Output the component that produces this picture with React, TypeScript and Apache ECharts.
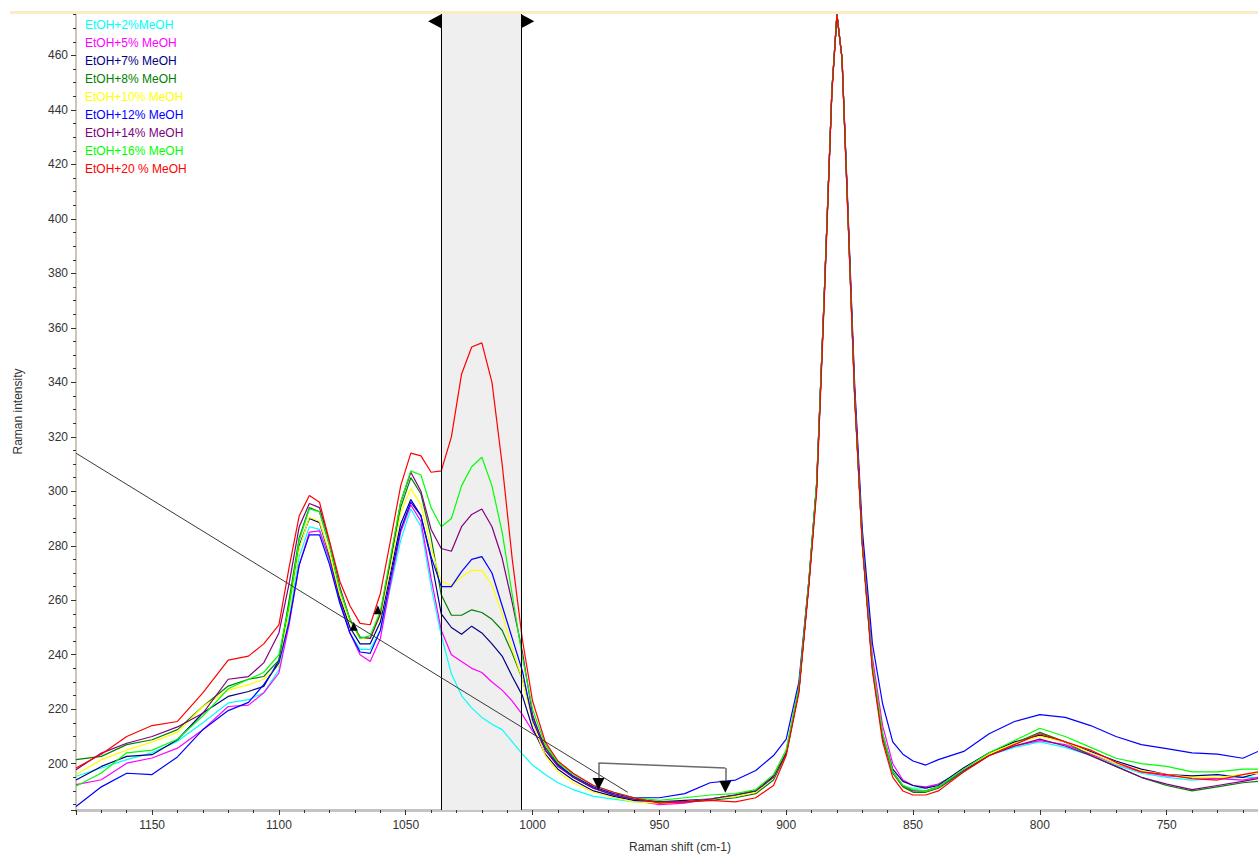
import React, { useEffect, useRef } from 'react';
import * as echarts from 'echarts';

// Raman shift axis positions (cm-1) shared by all spectra
const wavenumbers = [
  1180, 1170, 1160, 1150, 1140, 1130, 1120, 1112, 1106, 1100,
  1096, 1092, 1088, 1084, 1080, 1076, 1072, 1068, 1064, 1060,
  1056, 1052, 1048, 1044, 1040, 1036, 1032, 1028, 1024, 1020,
  1016, 1012, 1008, 1004, 1000, 995, 990, 984, 976, 968,
  960, 950, 940, 930, 920, 912, 905, 900, 895, 891,
  888, 885, 882, 880, 878, 876, 873, 870, 866, 862,
  858, 854, 850, 845, 840, 830, 820, 810, 800, 790,
  780, 770, 760, 750, 740, 730, 720, 714,
];

const meoh2 = [
  195.4, 198.4, 201.5, 204, 208.2, 215, 222.3, 223.5, 226, 234.5,
  254, 276, 287, 286, 274, 259, 248, 242, 242, 249,
  265, 282, 293.5, 287, 265, 247, 233, 225, 220.5, 217,
  214.5, 212.5, 208, 203.5, 199.5, 196, 193, 190.5, 188, 187,
  186, 185.5, 186, 187, 188, 189.5, 195, 204, 227, 267,
  302, 372, 447, 475, 459, 410, 335, 281, 236, 211,
  197, 192, 191, 191, 192.5, 198, 203, 206, 208, 206,
  203, 199.5, 196.5, 195, 194, 194.5, 195, 195,
];
const meoh5 = [
  192.3, 194.1, 200.2, 202.1, 205.7, 212.5, 221, 221.5, 226, 233.3,
  251, 273, 285, 285.5, 275, 260, 248, 240, 237.5, 246,
  266, 285, 295, 289, 268, 249, 240, 237.5, 235, 233.5,
  230, 227, 223, 218, 212, 206, 199.5, 195, 191, 188.5,
  186.5, 185, 185.5, 187, 188.5, 190, 195.5, 205, 228, 268,
  303, 372, 447, 475, 459, 411, 337, 283, 239, 214,
  200, 194, 192, 191.5, 192.5, 197.5, 203, 206.5, 208.5, 207,
  203.5, 200, 197, 195.5, 195, 194.5, 194, 195,
];
const meoh7 = [
  194, 199, 202.7, 203.3, 208.8, 218.6, 224.7, 226.5, 228.4, 238,
  258, 280, 290, 288.5, 276, 261, 250, 244, 244, 252,
  270, 288, 297, 291, 275, 255, 250, 247.5, 250.5, 248,
  244, 239.5, 232, 225, 213, 203.5, 198, 194, 190, 188,
  186.5, 186, 186.5, 187, 188.5, 190, 195.5, 204, 227, 267,
  302, 372, 447, 475, 459, 410, 335, 281, 236, 211,
  198, 193.5, 192, 191, 192, 198.5, 204, 208, 210.5, 208,
  204.5, 201, 198, 196, 195.5, 196, 195, 196.5,
];
const meoh8 = [
  201.5, 202.7, 207, 208.8, 212.5, 221, 228.5, 231, 232, 238,
  260, 283, 294, 292.5, 280, 264, 253, 246, 246, 255,
  274, 294, 305, 299, 283, 262, 254.5, 254.5, 256.5, 255.5,
  253, 249, 240.5, 231, 217, 206, 200, 195, 191, 188.5,
  187, 186, 186, 186.5, 187.5, 189, 194, 203.5, 227, 267,
  302, 372, 447, 475, 459, 410, 335, 281, 235, 209.5,
  196.5, 191.5, 189.5, 189.5, 191, 197, 203, 207.5, 211.5, 208,
  203, 199, 195, 192, 190, 191.5, 193, 193.5,
];
const meoh10 = [
  196, 201.5, 205, 208, 211.5, 221, 227, 229, 231, 236,
  256, 279, 290.5, 289, 277, 262, 252, 246, 246, 254,
  272, 292, 301, 295, 279, 267, 265.5, 268.5, 271, 271,
  265.5, 255, 242, 231, 215, 203, 197, 193, 189.5, 187.5,
  186, 185.5, 186, 187, 188, 189.5, 195, 205, 228, 268,
  303, 372, 447, 475, 459, 410, 335, 281, 236, 211,
  197, 192, 190.5, 190, 191.5, 198, 203.5, 207.5, 210, 208,
  204, 200, 197.5, 196, 195, 195, 196, 196.5,
];
const meoh12 = [
  184.3, 191.5, 196.5, 196, 202.5, 212.5, 219.5, 222.5, 229, 237,
  252, 273, 284, 284, 273, 259, 248, 241, 240.5, 249,
  268, 286, 296, 291, 276, 265, 265, 270.5, 275, 276,
  270, 258, 246, 234, 216, 205, 199.5, 195.5, 191.5, 189,
  187.5, 187.5, 189, 193, 194, 197.5, 203, 209, 230, 268,
  303, 372, 447, 475, 459, 412, 339, 286, 244, 222,
  208, 203.5, 201, 199.5, 201.5, 204.5, 211, 215.5, 218, 217,
  214, 210, 207, 205.5, 204, 203.5, 202, 204.5,
];
const meoh14 = [
  197.8, 203.9, 207.5, 210, 213.5, 218.5, 231, 232, 237, 248,
  266, 287, 295.5, 294, 281, 265, 253, 246.5, 246, 255,
  275, 296, 307, 300, 286, 279, 278, 287, 291.5, 293.5,
  287, 275.5, 259, 241, 218, 205, 199, 195, 191, 188.5,
  187, 186, 186, 187, 188.5, 190, 195, 204, 227, 267,
  302, 372, 447, 475, 459, 410, 335, 281, 235, 210,
  197, 192, 190, 190, 191.5, 197.5, 203, 206.5, 209, 206.5,
  203, 199, 195, 192.5, 190.5, 192, 193.5, 194.5,
];
const meoh16 = [
  191.7, 196.6, 204, 205, 209, 217.5, 227.5, 231, 233.5, 240,
  258, 282, 293.5, 292.5, 280, 264, 253, 246, 247, 256,
  276, 296, 307.5, 306, 294, 287, 290, 302, 309, 312.5,
  302, 285, 262, 239, 220, 207, 200.5, 196, 192, 189.5,
  187.5, 186.5, 187.5, 188.5, 189, 190.5, 196, 205, 228, 268,
  303, 372, 447, 475, 459, 410, 335, 281, 236, 211,
  197, 192, 190.5, 190, 191.5, 198, 204, 208.5, 213, 210,
  206, 202, 200, 199, 197, 197, 198, 198,
];
const meoh20 = [
  198.4, 203.5, 210, 214, 215.5, 226, 238, 239.5, 244, 251,
  272, 291, 298.5, 296, 281.5, 267, 258, 251.5, 251, 262.5,
  282, 302, 314, 313, 307, 307.5, 320, 343, 353, 354.5,
  340, 310, 275, 245.5, 223, 208, 201, 196.5, 192, 189.5,
  187.5, 185.5, 186, 186.5, 186, 187.5, 192, 203, 226, 266,
  300, 370, 446, 475, 459, 409, 334, 280, 234, 208,
  195, 190, 188.5, 188.5, 190, 197, 203, 207, 211, 208,
  205, 200.5, 197, 196, 194.5, 194, 196, 197,
];

const seriesNames = [
  'EtOH+2%MeOH',
  'EtOH+5% MeOH',
  'EtOH+7% MeOH',
  'EtOH+8% MeOH',
  'EtOH+10% MeOH',
  'EtOH+12% MeOH',
  'EtOH+14% MeOH',
  'EtOH+16% MeOH',
  'EtOH+20 % MeOH',
];
const seriesColors = ['#00ffff', '#ff00ff', '#000080', '#008000', '#ffff00', '#0000ff', '#800080', '#00ff00', '#ff0000'];
const seriesValues = [meoh2, meoh5, meoh7, meoh8, meoh10, meoh12, meoh14, meoh16, meoh20];

// annotation cursor positions (data units)
const bandRange = [1036, 1004.5];
const diagonalLine = [[1180, 314], [962.5, 189.5]];
const bracketPoints = [[974, 193], [974, 200.3], [924, 198.4], [924, 191.5]];
const bracketMarkers = [[974, 192.5], [924, 191.5]];
const topArrows = [[1038.6, 472.6], [1001.9, 472.6]];
const smallMarkers = [[1061, 256.5], [1070.5, 250.5]];

const FONT = '"Liberation Sans", Arial, Helvetica, sans-serif';

export default function App() {
  const ref = useRef<HTMLDivElement>(null);
  useEffect(() => {
    if (!ref.current) return;
    const chart = echarts.init(ref.current, undefined, { renderer: 'svg' });

    const lineSeries: any[] = seriesNames.map((name, i) => ({
      name,
      type: 'line',
      data: wavenumbers.map((w, j) => [w, seriesValues[i][j]]),
      showSymbol: false,
      symbol: 'none',
      color: seriesColors[i],
      lineStyle: { width: 1.2, color: seriesColors[i] },
      z: 2,
      silent: true,
    }));

    lineSeries[0].markArea = {
      silent: true,
      itemStyle: { color: '#efefef', opacity: 1 },
      data: [[{ xAxis: bandRange[0] }, { xAxis: bandRange[1] }]],
    };

    const segStyle = { color: '#6a6a6a', width: 1.5, type: 'solid' };
    lineSeries[0].markLine = {
      silent: true,
      symbol: ['none', 'none'],
      label: { show: false },
      lineStyle: { color: '#000', width: 1, type: 'solid' },
      data: [
        { xAxis: bandRange[0] },
        { xAxis: bandRange[1] },
        [{ coord: diagonalLine[0], lineStyle: { color: '#3a3a3a', width: 1, type: 'solid' } }, { coord: diagonalLine[1] }],
        [{ coord: bracketPoints[0], lineStyle: segStyle }, { coord: bracketPoints[1] }],
        [{ coord: bracketPoints[1], lineStyle: segStyle }, { coord: bracketPoints[2] }],
        [{ coord: bracketPoints[2], lineStyle: segStyle }, { coord: bracketPoints[3] }],
      ],
    };

    lineSeries[0].markPoint = {
      silent: true,
      label: { show: false },
      itemStyle: { color: '#000' },
      data: [
        { coord: topArrows[0], symbol: 'triangle', symbolSize: [14, 13], symbolRotate: 90 },
        { coord: topArrows[1], symbol: 'triangle', symbolSize: [14, 13], symbolRotate: -90 },
        { coord: bracketMarkers[0], symbol: 'triangle', symbolSize: [12, 12], symbolRotate: 180 },
        { coord: bracketMarkers[1], symbol: 'triangle', symbolSize: [12, 12], symbolRotate: 180 },
        { coord: smallMarkers[0], symbol: 'triangle', symbolSize: [8, 9], symbolRotate: 0 },
        { coord: smallMarkers[1], symbol: 'triangle', symbolSize: [8, 9], symbolRotate: 0 },
      ],
    };

    const option: any = {
      animation: false,
      backgroundColor: '#ffffff',
      textStyle: { fontFamily: FONT },
      grid: { left: 76, right: 0, top: 13, bottom: 46, containLabel: false },
      legend: {
        orient: 'vertical',
        left: 75,
        top: 11,
        itemWidth: 0,
        itemHeight: 18,
        itemGap: 0,
        icon: 'rect',
        itemStyle: { opacity: 0 },
        lineStyle: { opacity: 0 },
        selectedMode: false,
        textStyle: { fontSize: 12, fontFamily: FONT },
        data: seriesNames.map((n, i) => ({ name: n, textStyle: { color: seriesColors[i] } })),
      },
      xAxis: {
        type: 'value',
        inverse: true,
        min: 714,
        max: 1180,
        splitNumber: 10,
        axisLine: { show: true, onZero: false, lineStyle: { color: '#c4c4c4', width: 3 } },
        axisTick: { show: true, length: 5, lineStyle: { color: '#333', width: 1 } },
        minorTick: { show: true, splitNumber: 5, length: 3, lineStyle: { color: '#333', width: 1 } },
        axisLabel: {
          color: '#333', fontSize: 12, margin: 9, showMinLabel: false, showMaxLabel: false, fontFamily: FONT,
          formatter: (v: number) => String(v),
        },
        splitLine: { show: false },
      },
      yAxis: {
        type: 'value',
        min: 183,
        max: 475.6,
        splitNumber: 15,
        name: 'Raman intensity',
        nameLocation: 'middle',
        nameGap: 52,
        nameRotate: 90,
        nameTextStyle: { color: '#333', fontSize: 12, fontFamily: FONT },
        axisLine: { show: true, onZero: false, lineStyle: { color: '#cec6b4', width: 2 } },
        axisTick: { show: true, length: 5, lineStyle: { color: '#333', width: 1 } },
        minorTick: { show: true, splitNumber: 4, length: 3, lineStyle: { color: '#333', width: 1 } },
        axisLabel: {
          color: '#333', fontSize: 12, margin: 8, showMinLabel: false, showMaxLabel: false, fontFamily: FONT,
          formatter: (v: number) => String(v),
        },
        splitLine: { show: false },
      },
      graphic: [
        { type: 'rect', left: 10, top: 11, shape: { width: 1248, height: 3 }, style: { fill: '#fdebc6' }, z: 10, silent: true },
        {
          type: 'text',
          x: 680,
          y: 847,
          style: { text: 'Raman shift (cm-1)', fill: '#333', font: `12px ${FONT}`, textAlign: 'center', textVerticalAlign: 'middle' },
          silent: true,
        },
      ],
      series: lineSeries,
    };

    chart.setOption(option);
    return () => chart.dispose();
  }, []);

  return <div ref={ref} style={{ position: 'fixed', left: 0, top: 0, width: 1258, height: 856, background: '#fff' }} />;
}
